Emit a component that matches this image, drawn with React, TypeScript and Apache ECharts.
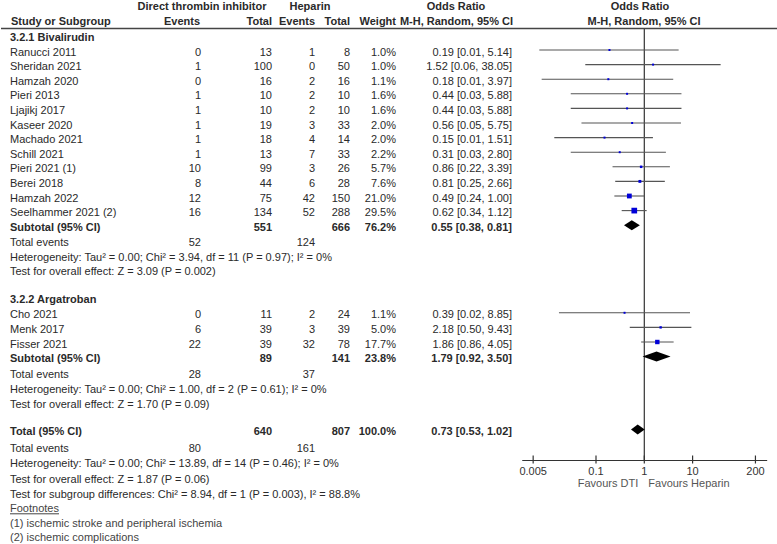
import React, { useEffect, useRef } from "react";
import * as echarts from "echarts";

// ---------------- DATA ----------------
const bivStudies = ["Ranucci 2011", "Sheridan 2021", "Hamzah 2020", "Pieri 2013", "Ljajikj 2017", "Kaseer 2020", "Machado 2021", "Schill 2021", "Pieri 2021 (1)", "Berei 2018", "Hamzah 2022", "Seelhammer 2021 (2)"];
const bivDtiEvents = [0, 1, 0, 1, 1, 1, 1, 1, 10, 8, 12, 16];
const bivDtiTotal = [13, 100, 16, 10, 10, 19, 18, 13, 99, 44, 75, 134];
const bivHepEvents = [1, 0, 2, 2, 2, 3, 4, 7, 3, 6, 42, 52];
const bivHepTotal = [8, 50, 16, 10, 10, 33, 14, 33, 26, 28, 150, 288];
const bivWeight = [1.0, 1.0, 1.1, 1.6, 1.6, 2.0, 2.0, 2.2, 5.7, 7.6, 21.0, 29.5];
const bivOR = [0.19, 1.52, 0.18, 0.44, 0.44, 0.56, 0.15, 0.31, 0.86, 0.81, 0.49, 0.62];
const bivLo = [0.0067, 0.06, 0.0075, 0.03, 0.03, 0.05, 0.0137, 0.03, 0.22, 0.25, 0.24, 0.34];
const bivHi = [5.14, 38.05, 3.97, 5.88, 5.88, 5.75, 1.51, 2.80, 3.39, 2.66, 1.00, 1.12];
const bivSubtotal = { dtiTotal: 551, hepTotal: 666, weight: 76.2, or: 0.55, lo: 0.38, hi: 0.81, dtiEvents: 52, hepEvents: 124 };
const bivHet = "Heterogeneity: Tau² = 0.00; Chi² = 3.94, df = 11 (P = 0.97); I² = 0%";
const bivTest = "Test for overall effect: Z = 3.09 (P = 0.002)";

const argStudies = ["Cho 2021", "Menk 2017", "Fisser 2021"];
const argDtiEvents = [0, 6, 22];
const argDtiTotal = [11, 39, 39];
const argHepEvents = [2, 3, 32];
const argHepTotal = [24, 39, 78];
const argWeight = [1.1, 5.0, 17.7];
const argOR = [0.39, 2.18, 1.86];
const argLo = [0.0171, 0.50, 0.86];
const argHi = [8.85, 9.43, 4.05];
const argSubtotal = { dtiTotal: 89, hepTotal: 141, weight: 23.8, or: 1.79, lo: 0.92, hi: 3.50, dtiEvents: 28, hepEvents: 37 };
const argHet = "Heterogeneity: Tau² = 0.00; Chi² = 1.00, df = 2 (P = 0.61); I² = 0%";
const argTest = "Test for overall effect: Z = 1.70 (P = 0.09)";

const overall = { dtiTotal: 640, hepTotal: 807, weight: 100.0, or: 0.73, lo: 0.53, hi: 1.02, dtiEvents: 80, hepEvents: 161 };
const totHet = "Heterogeneity: Tau² = 0.00; Chi² = 13.89, df = 14 (P = 0.46); I² = 0%";
const totTest = "Test for overall effect: Z = 1.87 (P = 0.06)";
const subDiff = "Test for subgroup differences: Chi² = 8.94, df = 1 (P = 0.003), I² = 88.8%";
const footnotes = ["(1) ischemic stroke and peripheral ischemia", "(2) ischemic complications"];

const tickValues = [0.005, 0.1, 1, 10, 200];
const tickLabels = ["0.005", "0.1", "1", "10", "200"];
const favourLeft = "Favours DTI";
const favourRight = "Favours Heparin";

// ---------------- LAYOUT ----------------
const FONT = '"Liberation Sans", Arial, Helvetica, sans-serif';
const FS = 11;
const TXT = "#2a2a2a";
const ROW_PX = 14.6;
const ROW0_PX = 50;
const GRID_TOP = 28;
const GRID_BOTTOM = 460;
const rowOf = (py: number) => (py - ROW0_PX) / ROW_PX;
const Y_MIN = rowOf(GRID_TOP);
const Y_MAX = rowOf(GRID_BOTTOM);
const X_MIN = Math.pow(10, (522.7 - 644.3) / 48.3);
const X_MAX = Math.pow(10, (766.7 - 644.3) / 48.3);

const COL = { name: 10, dtiE: 201, dtiT: 272, hepE: 315, hepT: 350, w: 396, or: 512 };
const R = {
  head1: rowOf(6), head2: rowOf(20.7),
  bivHead: rowOf(37), bivFirst: 0, bivSub: 12, bivEvents: rowOf(242.3), bivHet: rowOf(256.8), bivTest: rowOf(270.6),
  argHead: rowOf(299.3), argFirst: 18, argSub: 21, argEvents: rowOf(374.3), argHet: rowOf(388.5), argTest: rowOf(403.5),
  total: 26, totEvents: rowOf(447.5), totHet: rowOf(463), totTest: rowOf(478.5), subDiff: rowOf(493.8),
  foot: rowOf(508.3), foot1: rowOf(523), foot2: rowOf(537),
};

type T = { text: string; x: number; r: number; align: "left" | "right" | "center"; bold?: boolean; color?: string; underline?: boolean; dy?: number };
const f2 = (v: number) => v.toFixed(2);
const ciText = (o: number, l: number, h: number) => `${f2(o)} [${f2(l)}, ${f2(h)}]`;

const texts: T[] = [];
const add = (t: T) => texts.push(t);
// headers
add({ text: "Direct thrombin inhibitor", x: 202, r: R.head1, align: "center", bold: true });
add({ text: "Heparin", x: 310, r: R.head1, align: "center", bold: true });
add({ text: "Odds Ratio", x: 456, r: R.head1, align: "center", bold: true });
add({ text: "Odds Ratio", x: 640, r: R.head1, align: "center", bold: true });
add({ text: "Study or Subgroup", x: 11, r: R.head2, align: "left", bold: true });
add({ text: "Events", x: 200, r: R.head2, align: "right", bold: true });
add({ text: "Total", x: COL.dtiT, r: R.head2, align: "right", bold: true });
add({ text: "Events", x: COL.hepE, r: R.head2, align: "right", bold: true });
add({ text: "Total", x: COL.hepT, r: R.head2, align: "right", bold: true });
add({ text: "Weight", x: COL.w, r: R.head2, align: "right", bold: true });
add({ text: "M-H, Random, 95% CI", x: 513, r: R.head2, align: "right", bold: true });
add({ text: "M-H, Random, 95% CI", x: 644, r: R.head2, align: "center", bold: true });

function addGroup(head: string, headR: number, firstR: number, names: string[], de: number[], dt: number[], he: number[], ht: number[], w: number[], o: number[], l: number[], h: number[], sub: typeof bivSubtotal, subR: number, evR: number, het: string, hetR: number, test: string, testR: number) {
  add({ text: head, x: COL.name, r: headR, align: "left", bold: true });
  names.forEach((n, i) => {
    const r = firstR + i;
    add({ text: n, x: COL.name, r, align: "left", dy: 1.5 });
    add({ text: String(de[i]), x: COL.dtiE, r, align: "right", dy: 1.5 });
    add({ text: String(dt[i]), x: COL.dtiT, r, align: "right", dy: 1.5 });
    add({ text: String(he[i]), x: COL.hepE, r, align: "right", dy: 1.5 });
    add({ text: String(ht[i]), x: COL.hepT, r, align: "right", dy: 1.5 });
    add({ text: w[i].toFixed(1) + "%", x: COL.w, r, align: "right", dy: 1.5 });
    add({ text: ciText(o[i], l[i], h[i]), x: COL.or, r, align: "right", dy: 1.5 });
  });
  add({ text: "Subtotal (95% CI)", x: COL.name, r: subR, align: "left", bold: true, dy: 1.5 });
  add({ text: String(sub.dtiTotal), x: COL.dtiT, r: subR, align: "right", bold: true, dy: 1.5 });
  add({ text: String(sub.hepTotal), x: COL.hepT, r: subR, align: "right", bold: true, dy: 1.5 });
  add({ text: sub.weight.toFixed(1) + "%", x: COL.w, r: subR, align: "right", bold: true, dy: 1.5 });
  add({ text: ciText(sub.or, sub.lo, sub.hi), x: COL.or, r: subR, align: "right", bold: true, dy: 1.5 });
  add({ text: "Total events", x: COL.name, r: evR, align: "left" });
  add({ text: String(sub.dtiEvents), x: COL.dtiE, r: evR, align: "right" });
  add({ text: String(sub.hepEvents), x: COL.hepE, r: evR, align: "right" });
  add({ text: het, x: COL.name, r: hetR, align: "left" });
  add({ text: test, x: COL.name, r: testR, align: "left" });
}
addGroup("3.2.1 Bivalirudin", R.bivHead, R.bivFirst, bivStudies, bivDtiEvents, bivDtiTotal, bivHepEvents, bivHepTotal, bivWeight, bivOR, bivLo, bivHi, bivSubtotal, R.bivSub, R.bivEvents, bivHet, R.bivHet, bivTest, R.bivTest);
addGroup("3.2.2 Argatroban", R.argHead, R.argFirst, argStudies, argDtiEvents, argDtiTotal, argHepEvents, argHepTotal, argWeight, argOR, argLo, argHi, argSubtotal, R.argSub, R.argEvents, argHet, R.argHet, argTest, R.argTest);

add({ text: "Total (95% CI)", x: COL.name, r: R.total, align: "left", bold: true, dy: 1.5 });
add({ text: String(overall.dtiTotal), x: COL.dtiT, r: R.total, align: "right", bold: true, dy: 1.5 });
add({ text: String(overall.hepTotal), x: COL.hepT, r: R.total, align: "right", bold: true, dy: 1.5 });
add({ text: overall.weight.toFixed(1) + "%", x: COL.w, r: R.total, align: "right", bold: true, dy: 1.5 });
add({ text: ciText(overall.or, overall.lo, overall.hi), x: COL.or, r: R.total, align: "right", bold: true, dy: 1.5 });
add({ text: "Total events", x: COL.name, r: R.totEvents, align: "left" });
add({ text: String(overall.dtiEvents), x: COL.dtiE, r: R.totEvents, align: "right" });
add({ text: String(overall.hepEvents), x: COL.hepE, r: R.totEvents, align: "right" });
add({ text: totHet, x: COL.name, r: R.totHet, align: "left" });
add({ text: totTest, x: COL.name, r: R.totTest, align: "left" });
add({ text: subDiff, x: COL.name, r: R.subDiff, align: "left" });
add({ text: "Footnotes", x: COL.name, r: R.foot, align: "left", color: "#444", underline: true });
add({ text: footnotes[0], x: COL.name, r: R.foot1, align: "left", color: "#444" });
add({ text: footnotes[1], x: COL.name, r: R.foot2, align: "left", color: "#444" });

const studyData = [
  ...bivStudies.map((_, i) => [bivOR[i], bivLo[i], bivHi[i], R.bivFirst + i, bivWeight[i]]),
  ...argStudies.map((_, i) => [argOR[i], argLo[i], argHi[i], R.argFirst + i, argWeight[i]]),
];
const diamondData = [
  [bivSubtotal.or, bivSubtotal.lo, bivSubtotal.hi, R.bivSub],
  [argSubtotal.or, argSubtotal.lo, argSubtotal.hi, R.argSub],
  [overall.or, overall.lo, overall.hi, R.total],
];

export default function App() {
  const ref = useRef<HTMLDivElement>(null);
  useEffect(() => {
    if (!ref.current) return;
    const chart = echarts.init(ref.current, undefined, { renderer: "svg" });
    const option: any = {
      animation: false,
      backgroundColor: "#ffffff",
      textStyle: { fontFamily: FONT },
      grid: { left: 522.7, top: GRID_TOP, width: 766.7 - 522.7, height: GRID_BOTTOM - GRID_TOP, containLabel: false },
      xAxis: {
        type: "log", logBase: 10, min: X_MIN, max: X_MAX,
        axisLine: { show: true, onZero: false, lineStyle: { color: "#333", width: 1.2 } },
        axisTick: { show: false }, axisLabel: { show: false }, splitLine: { show: false },
      },
      yAxis: { type: "value", inverse: true, min: Y_MIN, max: Y_MAX, show: false, splitLine: { show: false } },
      graphic: [
        { type: "line", shape: { x1: 1, y1: 28.5, x2: 777, y2: 28.5 }, style: { stroke: "#444", lineWidth: 1.4 }, z: 10 },
      ],
      series: [
        {
          type: "line", data: [[1, Y_MIN], [1, Y_MAX]], symbol: "none", silent: true,
          lineStyle: { color: "#333", width: 1.2 }, z: 1,
        },
        {
          type: "custom", clip: false, silent: true, z: 3,
          encode: { x: [0, 1, 2], y: 3 },
          data: studyData,
          renderItem: (params: any, api: any) => {
            const p = api.coord([api.value(0), api.value(3)]);
            const pl = api.coord([api.value(1), api.value(3)]);
            const ph = api.coord([api.value(2), api.value(3)]);
            const s = Math.max(2, 1.05 * Math.sqrt(api.value(4)));
            return {
              type: "group",
              children: [
                { type: "line", shape: { x1: pl[0], y1: p[1], x2: ph[0], y2: p[1] }, style: { stroke: "#555", lineWidth: 1.1 } },
                { type: "rect", shape: { x: p[0] - s / 2, y: p[1] - s / 2, width: s, height: s }, style: { fill: "#0000d8" } },
              ],
            };
          },
        },
        {
          type: "custom", clip: false, silent: true, z: 4,
          encode: { x: [0, 1, 2], y: 3 },
          data: diamondData,
          renderItem: (params: any, api: any) => {
            const p = api.coord([api.value(0), api.value(3)]);
            const pl = api.coord([api.value(1), api.value(3)]);
            const ph = api.coord([api.value(2), api.value(3)]);
            const hh = 5;
            return {
              type: "polygon",
              shape: { points: [[pl[0], p[1]], [p[0], p[1] - hh], [ph[0], p[1]], [p[0], p[1] + hh]] },
              style: { fill: "#000" },
            };
          },
        },
        {
          type: "custom", clip: false, silent: true, z: 5,
          data: tickValues.map((v) => [v, Y_MAX]),
          renderItem: (params: any, api: any) => {
            const p = api.coord([api.value(0), api.value(1)]);
            return {
              type: "group",
              children: [
                { type: "line", shape: { x1: p[0], y1: p[1] - 4.5, x2: p[0], y2: p[1] + 3.5 }, style: { stroke: "#333", lineWidth: 1.2 } },
                {
                  type: "text", x: p[0], y: p[1] + 11,
                  style: { text: tickLabels[params.dataIndex], align: "center", verticalAlign: "middle", font: `${FS}px ${FONT}`, fill: "#333" },
                },
              ],
            };
          },
        },
        {
          type: "custom", clip: false, silent: true, z: 5,
          data: [[1, Y_MAX]],
          renderItem: (params: any, api: any) => {
            const p = api.coord([api.value(0), api.value(1)]);
            return {
              type: "group",
              children: [
                { type: "text", x: p[0] - 6, y: p[1] + 22.5, style: { text: favourLeft, align: "right", verticalAlign: "middle", font: `${FS}px ${FONT}`, fill: "#555" } },
                { type: "text", x: p[0] + 4, y: p[1] + 22.5, style: { text: favourRight, align: "left", verticalAlign: "middle", font: `${FS}px ${FONT}`, fill: "#555" } },
              ],
            };
          },
        },
        {
          type: "custom", clip: false, silent: true, z: 6,
          data: texts.map((t) => [1, t.r]),
          renderItem: (params: any, api: any) => {
            const t = texts[params.dataIndex];
            const p = api.coord([api.value(0), api.value(1)]);
            const y = p[1] + (t.dy || 0);
            const font = `${t.bold ? "bold " : ""}${FS}px ${FONT}`;
            const txt: any = {
              type: "text", x: t.x, y,
              style: { text: t.text, align: t.align, verticalAlign: "middle", font, fill: t.color || TXT },
            };
            if (!t.underline) return txt;
            return {
              type: "group",
              children: [
                txt,
                { type: "line", shape: { x1: t.x, y1: y + 5.5, x2: t.x + 49, y2: y + 5.5 }, style: { stroke: t.color || TXT, lineWidth: 1 } },
              ],
            };
          },
        },
      ],
    };
    chart.setOption(option);
    return () => chart.dispose();
  }, []);
  return <div ref={ref} style={{ position: "absolute", left: 0, top: 0, width: 777, height: 544 }} />;
}
